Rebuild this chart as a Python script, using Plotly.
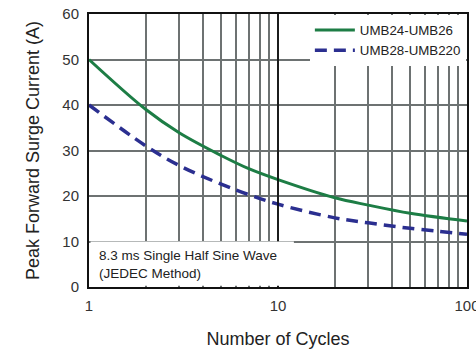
import plotly.graph_objects as go

cycles = [1, 2, 3, 5, 7, 10, 20, 30, 50, 100]
umb24_26 = [50, 39.0, 33.9, 28.9, 26.0, 23.6, 19.6, 18.0, 16.2, 14.5]
umb28_220 = [40, 31.0, 26.7, 22.6, 20.3, 18.2, 15.2, 14.1, 12.9, 11.6]

grid_x = [1, 2, 3, 4, 5, 6, 7, 8, 9, 10, 20, 30, 40, 50, 60, 70, 80, 90, 100]
grid_x_text = ["1", "", "", "", "", "", "", "", "", "10", "", "", "", "", "", "", "", "", "100"]
y_ticks = [0, 10, 20, 30, 40, 50, 60]

FONT = "Arial, Liberation Sans, sans-serif"
GRID = "#6d7272"

fig = go.Figure()
fig.add_trace(go.Scatter(x=cycles, y=umb24_26, mode="lines", name="UMB24-UMB26",
                         line=dict(color="#1d7d45", width=3, shape="spline")))
fig.add_trace(go.Scatter(x=cycles, y=umb28_220, mode="lines", name="UMB28-UMB220",
                         line=dict(color="#2b2f90", width=3.5, dash="12px,7px", shape="spline")))

fig.update_layout(
    width=476, height=349,
    margin=dict(l=89, r=9, t=14, b=62, autoexpand=False),
    paper_bgcolor="white", plot_bgcolor="white",
    font=dict(family=FONT, size=15, color="#333333"),
    showlegend=True,
    legend=dict(x=0.997, y=0.997, xanchor="right", yanchor="top",
                bgcolor="white", font=dict(size=13.3, color="#222222"),
                tracegroupgap=0, itemwidth=40),
    xaxis=dict(type="log", range=[0, 2], tickvals=grid_x, ticktext=grid_x_text,
               showgrid=True, gridcolor=GRID, gridwidth=1.5,
               showline=True, mirror=True, linecolor="#111111", linewidth=2,
               ticks="", ticklabelstandoff=4, ticklabeloverflow="allow",
               zeroline=False, automargin=False,
               title=dict(text="Number of Cycles", font=dict(size=18, color="#222222"), standoff=20)),
    yaxis=dict(range=[0, 60], tickvals=y_ticks,
               showgrid=True, gridcolor=GRID, gridwidth=1.5,
               showline=True, mirror=True, linecolor="#111111", linewidth=2,
               ticks="", ticklabelstandoff=5, zeroline=False, automargin=False,
               title=dict(text="Peak Forward Surge Current (A)", font=dict(size=18, color="#222222"), standoff=18)),
    shapes=[
        dict(type="line", xref="x", yref="paper", x0=10, x1=10, y0=0, y1=1,
             line=dict(color="black", width=1.5), layer="above"),
        dict(type="rect", xref="paper", yref="y", x0=0.004, x1=0.542, y0=0.3, y1=10,
             fillcolor="white", line=dict(width=0), layer="above"),
    ],
    annotations=[
        dict(xref="paper", yref="paper", x=0.02, y=0.15, xanchor="left", yanchor="top",
             align="left", showarrow=False,
             text="8.3 ms Single Half Sine Wave<br>(JEDEC Method)",
             font=dict(size=13.5, color="#222222")),
    ],
)

fig.write_html("out.html")
